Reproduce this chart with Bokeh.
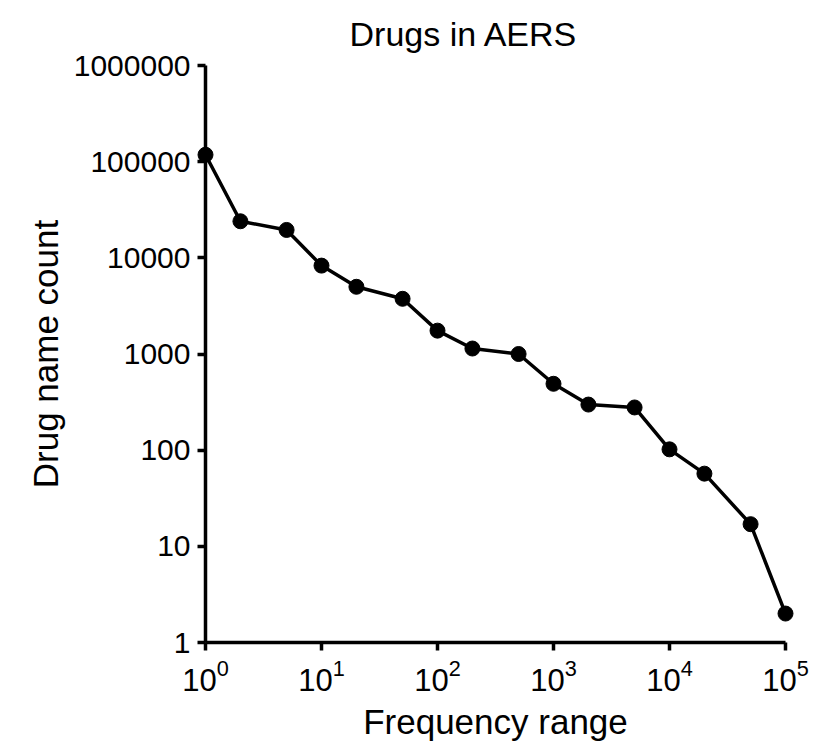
from bokeh.plotting import figure
from bokeh.models import FixedTicker, NumeralTickFormatter, Range1d, Title
from bokeh.embed import file_html
from bokeh.resources import INLINE

# Data
frequency = [1, 2, 5, 10, 20, 50, 100, 200, 500, 1000, 2000, 5000, 10000, 20000, 50000, 100000]
drug_count = [118000, 24000, 19500, 8300, 5000, 3750, 1750, 1140, 1000, 490, 298, 278, 102, 57, 17, 2]

x_ticks = [1, 10, 100, 1000, 10000, 100000]
y_ticks = [1, 10, 100, 1000, 10000, 100000, 1000000]

FONT = "Liberation Sans"

p = figure(
    x_axis_type="log", y_axis_type="log",
    x_range=Range1d(1, 100000), y_range=Range1d(1, 1000000),
    frame_width=580, frame_height=577,
    min_border_left=205, min_border_right=30,
    min_border_top=65, min_border_bottom=107,
    output_backend="svg", toolbar_location=None,
    background_fill_color="white", border_fill_color="white",
    outline_line_color=None,
)

t = Title(text="Drugs in AERS", align="left", offset=144,
          text_font=FONT, text_font_size="34px", text_font_style="normal",
          text_color="black", standoff=25)
p.add_layout(t, "above")

p.grid.visible = False

for ax in (p.xaxis[0], p.yaxis[0]):
    ax.axis_line_width = 3.5
    ax.axis_line_color = "black"
    ax.major_tick_line_width = 3.5
    ax.major_tick_line_color = "black"
    ax.major_tick_out = 8
    ax.major_tick_in = 0
    ax.minor_tick_line_color = None
    ax.major_label_text_font = FONT
    ax.major_label_text_font_size = "30px"
    ax.major_label_text_color = "black"
    ax.axis_label_text_font = FONT
    ax.axis_label_text_font_size = "35px"
    ax.axis_label_text_font_style = "normal"
    ax.axis_label_text_color = "black"

p.xaxis[0].ticker = FixedTicker(ticks=x_ticks, minor_ticks=[])
p.yaxis[0].ticker = FixedTicker(ticks=y_ticks, minor_ticks=[])
p.yaxis[0].formatter = NumeralTickFormatter(format="0")
p.xaxis[0].axis_label = "Frequency range"
p.yaxis[0].axis_label = "Drug name count"
p.yaxis[0].major_label_standoff = 7
p.yaxis[0].axis_label_standoff = 6
p.xaxis[0].major_label_standoff = 8
p.xaxis[0].major_label_text_font_size = "31px"
p.xaxis[0].axis_label_standoff = 8

ln = p.line(frequency, drug_count, line_color="black", line_width=3.5)
ln.level = "overlay"
sc = p.scatter(frequency, drug_count, size=15, marker="circle",
               fill_color="black", line_color="black")
sc.level = "overlay"

open("out.html", "w").write(file_html(p, INLINE))
